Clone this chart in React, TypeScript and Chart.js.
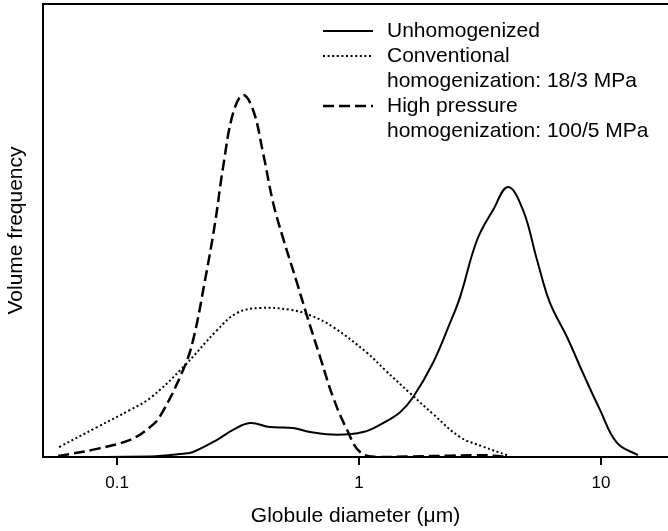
import React, { useEffect, useRef } from "react";
import { Chart, registerables } from "chart.js";

Chart.register(...registerables);

// ---- Data ----
const unhomX = [0.057, 0.137, 0.187, 0.206, 0.259, 0.3015, 0.3545, 0.4287, 0.5337, 0.6274, 0.8111, 1.039, 1.256, 1.477, 1.672, 2.022, 2.377, 2.615, 3.074, 3.578, 4.128, 4.762, 5.44, 6.155, 7.235, 8.427, 9.906, 11.65, 14.22];
const unhomY = [0, 0.01, 0.07, 0.11, 0.38, 0.6, 0.75, 0.66, 0.64, 0.55, 0.49, 0.55, 0.75, 0.99, 1.32, 2.08, 2.96, 3.53, 4.79, 5.45, 5.96, 5.45, 4.35, 3.4, 2.65, 1.85, 1.04, 0.31, 0.04];

const convX = [0.0576, 0.0827, 0.1132, 0.1369, 0.1874, 0.259, 0.3132, 0.3899, 0.5187, 0.6274, 0.7808, 1.079, 1.281, 1.624, 2.022, 2.615, 3.25, 4.089];
const convY = [0.22, 0.66, 1.04, 1.3, 1.98, 2.8, 3.18, 3.29, 3.25, 3.13, 2.87, 2.3, 1.92, 1.41, 0.95, 0.44, 0.23, 0.04];

const highX = [0.0571, 0.0827, 0.1132, 0.1369, 0.1506, 0.1874, 0.2061, 0.231, 0.2541, 0.2742, 0.3015, 0.3316, 0.3648, 0.4012, 0.4411, 0.4853, 0.5544, 0.6098, 0.6901, 0.7808, 0.892, 1.0096, 1.187, 1.6, 2.4, 3.0, 3.6, 4.09];
const highY = [0.02, 0.18, 0.38, 0.66, 0.9, 1.92, 2.58, 3.91, 5.17, 6.4, 7.59, 7.99, 7.66, 6.71, 5.62, 4.83, 3.84, 3.11, 2.21, 1.32, 0.6, 0.11, 0, 0.01, 0.03, 0.04, 0.03, 0];

const seriesLabels = [
  ["Unhomogenized"],
  ["Conventional", "homogenization: 18/3 MPa"],
  ["High pressure", "homogenization: 100/5 MPa"],
];

const tickValues = [0.1, 1, 10];
const tickLabels = ["0.1", "1", "10"];

const xTitle = "Globule diameter (\u03bcm)";
const yTitle = "Volume frequency";

const FONT = "'Liberation Sans', Arial, Helvetica, sans-serif";

const toPoints = (xs: number[], ys: number[]) => xs.map((x, i) => ({ x, y: ys[i] }));

const frameAndLegend = {
  id: "frameAndLegend",
  afterDraw(chart: any) {
    const { ctx, chartArea, width } = chart;
    ctx.save();
    // top frame line
    ctx.strokeStyle = "#000";
    ctx.lineWidth = 2;
    ctx.setLineDash([]);
    ctx.beginPath();
    ctx.moveTo(chartArea.left - 1, chartArea.top);
    ctx.lineTo(width, chartArea.top);
    ctx.stroke();

    // legend
    const sampleX0 = 323;
    const sampleX1 = 373;
    const textX = 387;
    const lineGap = 25;
    let baseline = 37;
    ctx.font = `21px ${FONT}`;
    ctx.fillStyle = "#000";
    ctx.textBaseline = "alphabetic";
    ctx.textAlign = "left";
    chart.data.datasets.forEach((ds: any, i: number) => {
      const lines = seriesLabels[i];
      const sy = baseline - 6;
      ctx.save();
      ctx.strokeStyle = "#000";
      ctx.lineWidth = ds.borderWidth;
      ctx.setLineDash(ds.borderDash || []);
      ctx.beginPath();
      ctx.moveTo(sampleX0, sy);
      ctx.lineTo(sampleX1, sy);
      ctx.stroke();
      ctx.restore();
      lines.forEach((t: string, j: number) => {
        ctx.fillText(t, textX, baseline + j * lineGap);
      });
      baseline += lines.length * lineGap;
    });
    ctx.restore();
  },
};

export default function App() {
  const ref = useRef<HTMLCanvasElement | null>(null);

  useEffect(() => {
    if (!ref.current) return;
    Chart.defaults.font.family = FONT;
    Chart.defaults.color = "#000";
    const chart = new Chart(ref.current, {
      type: "line",
      data: {
        datasets: [
          {
            label: seriesLabels[0].join(" "),
            data: toPoints(unhomX, unhomY),
            borderColor: "#000",
            borderWidth: 2,
            borderDash: [],
            pointRadius: 0,
            tension: 0.4,
            fill: false,
          },
          {
            label: seriesLabels[1].join(" "),
            data: toPoints(convX, convY),
            borderColor: "#000",
            borderWidth: 2,
            borderDash: [2, 2.6],
            pointRadius: 0,
            tension: 0.4,
            fill: false,
          },
          {
            label: seriesLabels[2].join(" "),
            data: toPoints(highX, highY),
            borderColor: "#000",
            borderWidth: 2.5,
            borderDash: [11, 5],
            pointRadius: 0,
            tension: 0.4,
            fill: false,
          },
        ],
      },
      options: {
        responsive: false,
        animation: false,
        devicePixelRatio: 1,
        layout: { padding: { top: 4, right: 0, left: 0, bottom: 0 } },
        plugins: {
          legend: { display: false },
          tooltip: { enabled: false },
        },
        scales: {
          x: {
            type: "logarithmic",
            position: "bottom",
            min: 0.0494,
            max: 18.92,
            afterBuildTicks: (scale: any) => {
              scale.ticks = tickValues.map((v) => ({ value: v }));
            },
            afterFit: (scale: any) => {
              scale.height = 74;
            },
            ticks: {
              autoSkip: false,
              maxRotation: 0,
              padding: 8,
              font: { size: 17, family: FONT },
              color: "#000",
              callback: (value: any) => {
                const i = tickValues.findIndex((v) => Math.abs(v - Number(value)) < 1e-9);
                return i >= 0 ? tickLabels[i] : "";
              },
            },
            grid: {
              display: true,
              drawOnChartArea: false,
              drawTicks: true,
              tickLength: 8,
              color: "#000",
              lineWidth: 2,
            },
            border: { display: true, color: "#000", width: 2 },
            title: {
              display: true,
              text: xTitle,
              font: { size: 21, family: FONT },
              color: "#000",
              padding: { top: 0, bottom: 2 },
            },
          },
          y: {
            type: "linear",
            min: 0,
            max: 10,
            afterFit: (scale: any) => {
              scale.width = 43;
            },
            ticks: { display: false },
            grid: { display: false, drawTicks: false },
            border: { display: true, color: "#000", width: 2 },
            title: {
              display: true,
              text: yTitle,
              font: { size: 21, family: FONT },
              color: "#000",
              padding: { top: 4, bottom: 0 },
            },
          },
        },
      },
      plugins: [frameAndLegend],
    } as any);
    return () => chart.destroy();
  }, []);

  return (
    <div style={{ position: "fixed", left: 0, top: 0, width: 668, height: 531, background: "#fff" }}>
      <canvas ref={ref} width={668} height={531} style={{ display: "block", width: 668, height: 531 }} />
    </div>
  );
}
